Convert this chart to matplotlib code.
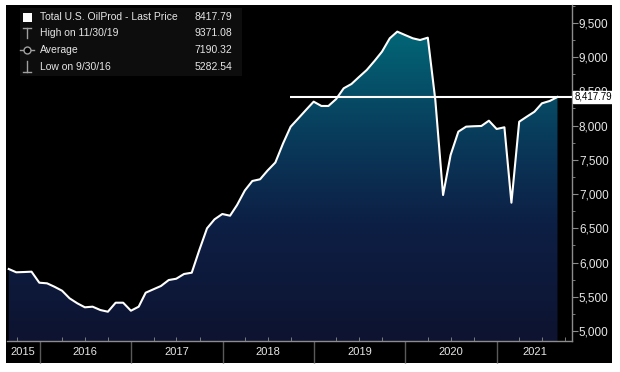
import datetime as dt

import matplotlib
matplotlib.use("Agg")
import matplotlib.pyplot as plt
import matplotlib.dates as mdates
import numpy as np
import pandas as pd
from matplotlib.colors import LinearSegmentedColormap
from matplotlib.lines import Line2D
from matplotlib.patches import Polygon, Rectangle
from matplotlib.ticker import FuncFormatter, MultipleLocator

plt.rcParams['font.family'] = ['Liberation Sans', 'DejaVu Sans']

first_month = "2015-08-31"
values = [
    5906, 5858, 5862, 5867, 5706,
    5697, 5648, 5589, 5478, 5405, 5347, 5356, 5307, 5282.54, 5414, 5414, 5297,
    5356, 5560, 5610, 5658, 5745, 5764, 5833, 5852, 6180, 6500, 6631, 6709,
    6684, 6840, 7052, 7191, 7216, 7344, 7461, 7741, 7983, 8106, 8227, 8349,
    8286, 8286, 8388, 8544, 8607, 8709, 8811, 8943, 9079, 9274, 9371.08, 9322,
    9274, 9249, 9283, 8373, 6986, 7570, 7911, 7984, 7990, 7994, 8071, 7950,
    7975, 6874, 8056, 8129, 8202, 8325, 8359, 8417.79,
]
years = [2015, 2016, 2017, 2018, 2019, 2020, 2021]
y_ticks = [5000, 5500, 6000, 6500, 7000, 7500, 8000, 8500, 9000, 9500]

legend_labels = ["Total U.S. OilProd - Last Price", "High on 11/30/19", "Average", "Low on 9/30/16"]
legend_values = ["8417.79", "9371.08", "7190.32", "5282.54"]
last_price = 8417.79

W, H = 620, 372
GRAY = "#8c8c8c"
TXT = "#e6e6e6"


def fx(px):
    return px / W


def fy(py):
    return 1 - py / H


dates = pd.date_range(first_month, periods=len(values), freq="ME")
xnum = mdates.date2num(dates.to_pydatetime())

fig = plt.figure(figsize=(W / 100, H / 100), dpi=100)
fig.patch.set_facecolor("white")
fig.add_artist(Rectangle((fx(6), fy(363)), fx(606), 358 / H, transform=fig.transFigure,
                         facecolor="black", edgecolor="none", zorder=0))

ax = fig.add_axes([fx(7), fy(341), fx(565), 336 / H])
ax.set_facecolor("black")

x0 = mdates.date2num(dt.datetime(2015, 8, 24))
x1 = mdates.date2num(dt.datetime(2021, 10, 28))
ymin, ymax = 4855, 9760

# gradient fill under the line
cmap = LinearSegmentedColormap.from_list("oil", [
    (0.0, "#0e1330"), (0.35, "#0d1f45"), (0.6, "#093a5a"), (1.0, "#00717e")])
grad = np.linspace(0, 1, 256).reshape(-1, 1)
verts = list(zip(xnum, values)) + [(xnum[-1], ymin), (xnum[0], ymin)]
poly = Polygon(verts, closed=True, facecolor="none", edgecolor="none")
ax.add_patch(poly)
img = ax.imshow(grad, extent=[x0, x1, ymin, ymax], aspect="auto", origin="lower",
                cmap=cmap, zorder=1)
img.set_clip_path(poly)

ax.plot(xnum, values, color="white", lw=1.5, zorder=3, solid_joinstyle="round")
ax.hlines(last_price, mdates.date2num(dt.datetime(2018, 9, 28)), x1, color="white", lw=1.5, zorder=4)

ax.set_xlim(x0, x1)
ax.set_ylim(ymin, ymax)

for s in ["left", "top"]:
    ax.spines[s].set_visible(False)
for s in ["right", "bottom"]:
    ax.spines[s].set_color(GRAY)
    ax.spines[s].set_linewidth(1)

ax.yaxis.tick_right()
ax.set_yticks(y_ticks)
ax.yaxis.set_minor_locator(MultipleLocator(250))
ax.yaxis.set_major_formatter(FuncFormatter(lambda v, p: f"{v:,.0f}"))
ax.tick_params(axis="y", which="major", direction="out", length=4, color=GRAY,
               labelcolor=TXT, labelsize=8.5, pad=1)
ax.tick_params(axis="y", which="minor", direction="out", length=2, color=GRAY)

ax.xaxis.set_major_locator(mdates.YearLocator())
ax.xaxis.set_minor_locator(mdates.MonthLocator(bymonth=[4, 7, 10]))
ax.xaxis.set_major_formatter(FuncFormatter(lambda v, p: ""))
ax.tick_params(axis="x", which="major", direction="out", length=16, color="#5a5a5a", width=1)
ax.tick_params(axis="x", which="minor", direction="in", length=3, color=GRAY)

xt = ax.get_xaxis_transform()
for yr in years:
    a = max(mdates.date2num(dt.datetime(yr, 1, 1)), x0)
    b = min(mdates.date2num(dt.datetime(yr + 1, 1, 1)), x1)
    ax.text((a + b) / 2, -0.033, str(yr), transform=xt, ha="center", va="center",
            color=TXT, fontsize=8, clip_on=False)

# last price tag on the right axis
ax.text(1.004, last_price, f"{last_price:,.2f}", transform=ax.get_yaxis_transform(),
        ha="left", va="center", fontsize=7, color="black", zorder=6, clip_on=False,
        bbox=dict(boxstyle="square,pad=0.1", facecolor="white", edgecolor="white"))

# legend block
fig.add_artist(Rectangle((fx(20), fy(76)), fx(222), 68 / H, transform=fig.transFigure,
                         facecolor="#0d0d0d", edgecolor="none", zorder=5))
rows = [17, 33, 50, 67]
for py, lab, val in zip(rows, legend_labels, legend_values):
    fig.text(fx(40), fy(py), lab, color=TXT, fontsize=7.5, va="center", ha="left", zorder=7)
    fig.text(fx(232), fy(py), val, color=TXT, fontsize=7.5, va="center", ha="right", zorder=7)

fig.add_artist(Rectangle((fx(22.5), fy(21.5)), fx(9), 9 / H, transform=fig.transFigure,
                         facecolor="white", edgecolor="none", zorder=7))
ic = "#a0a0a0"
fig.add_artist(Line2D([fx(27), fx(27)], [fy(28), fy(38)], color=ic, lw=1, zorder=7))
fig.add_artist(Line2D([fx(23), fx(31)], [fy(28), fy(28)], color=ic, lw=1, zorder=7))
fig.add_artist(Line2D([fx(20), fx(34)], [fy(50), fy(50)], color=ic, lw=1, zorder=7))
fig.add_artist(Line2D([fx(27)], [fy(50)], marker="o", ms=5, mfc="black", mec=ic, mew=1,
                      lw=0, zorder=8))
fig.add_artist(Line2D([fx(27), fx(27)], [fy(61), fy(72)], color=ic, lw=1, zorder=7))
fig.add_artist(Line2D([fx(23), fx(31)], [fy(72), fy(72)], color=ic, lw=1, zorder=7))

fig.savefig("out.png", dpi=100, facecolor="white")
